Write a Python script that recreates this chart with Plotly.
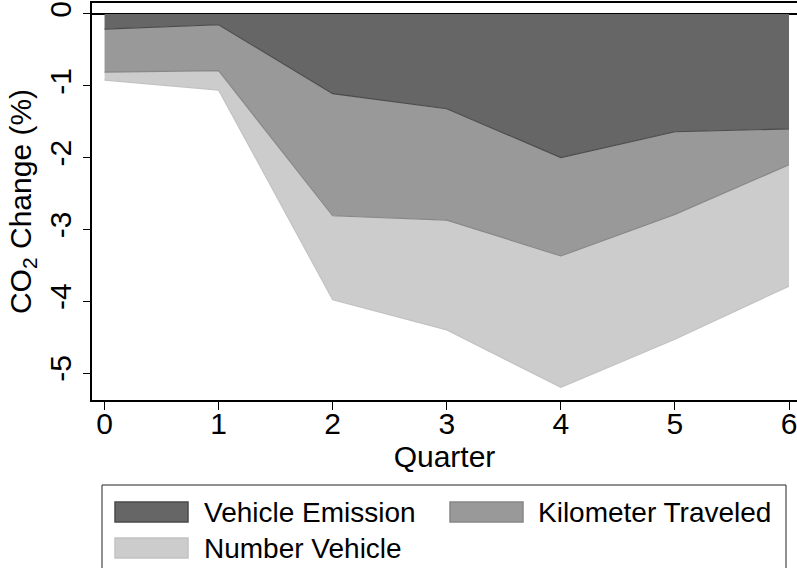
import plotly.graph_objects as go

quarters = [0, 1, 2, 3, 4, 5, 6]
# Components (percent), stacked downward from 0
vehicle_emission = [-0.21, -0.15, -1.11, -1.32, -2.00, -1.64, -1.60]
kilometer_traveled = [-0.60, -0.64, -1.70, -1.55, -1.37, -1.15, -0.50]
number_vehicle = [-0.11, -0.27, -1.17, -1.53, -1.83, -1.74, -1.69]

series_names = ["Vehicle Emission", "Kilometer Traveled", "Number Vehicle"]
series_values = [vehicle_emission, kilometer_traveled, number_vehicle]
fill_colors = ["#666666", "#999999", "#cccccc"]
line_colors = ["#4a4a4a", "#878787", "#c2c2c2"]

x_ticks = [0, 1, 2, 3, 4, 5, 6]
y_ticks = [0, -1, -2, -3, -4, -5]

FONT = "Liberation Sans, Arial, sans-serif"

fig = go.Figure()
for name, vals, fc, lc in zip(series_names, series_values, fill_colors, line_colors):
    fig.add_trace(go.Scatter(
        x=quarters, y=vals, name=name, mode="lines",
        stackgroup="one", fillcolor=fc,
        line=dict(color=lc, width=1.2),
        showlegend=False,
    ))

W, H = 797, 568
L, R, T, B = 92, 0, 3, 168
pw, ph = W - L - R, H - T - B

def px(xp):
    return (xp - L) / pw

def py(yp):
    return (H - B - yp) / ph

shapes = []
annotations = []
# legend box
shapes.append(dict(type="rect", xref="paper", yref="paper",
                   x0=px(102), x1=px(786), y0=py(485), y1=py(580),
                   line=dict(color="#222222", width=1), fillcolor="white", layer="above"))
legend_items = [
    (series_names[0], fill_colors[0], line_colors[0], 115, 502, 202),
    (series_names[1], fill_colors[1], line_colors[1], 450, 502, 536),
    (series_names[2], fill_colors[2], line_colors[2], 115, 538, 202),
]
for name, fc, lc, sx, sy, tx in legend_items:
    shapes.append(dict(type="rect", xref="paper", yref="paper",
                       x0=px(sx), x1=px(sx + 73), y0=py(sy), y1=py(sy + 20),
                       line=dict(color=lc, width=1.5), fillcolor=fc, layer="above"))
    annotations.append(dict(xref="paper", yref="paper", x=px(tx), y=py(sy + 10),
                            text=name, showarrow=False, xanchor="left", yanchor="middle",
                            font=dict(family=FONT, size=28, color="black")))

fig.update_layout(
    width=W, height=H,
    margin=dict(l=L, r=R, t=T, b=B, pad=0),
    paper_bgcolor="white", plot_bgcolor="white",
    font=dict(family=FONT, size=30, color="black"),
    shapes=shapes, annotations=annotations,
    showlegend=False,
)
fig.update_xaxes(
    range=[-0.11, 6.07], tickvals=x_ticks, ticktext=[str(v) for v in x_ticks],
    ticks="outside", ticklen=8, tickwidth=1, tickcolor="black",
    showline=True, linecolor="black", linewidth=1.5, mirror=True,
    showgrid=False, zeroline=False,
    ticklabeloverflow="allow", ticklabelstandoff=-12,
    title=dict(text="Quarter", standoff=2, font=dict(size=30)),
    tickfont=dict(size=30),
)
fig.update_yaxes(
    range=[-5.376, 0.153], tickvals=y_ticks, ticktext=[str(v) for v in y_ticks],
    ticks="outside", ticklen=7, tickwidth=1, tickcolor="black",
    showline=True, linecolor="black", linewidth=1.5,
    showgrid=False, zeroline=True, zerolinecolor="black", zerolinewidth=1.5,
    tickangle=-90, tickfont=dict(size=30),
    title=dict(text="CO<sub>2</sub> Change (%)", standoff=4, font=dict(size=30)),
)

fig.write_html("out.html")
